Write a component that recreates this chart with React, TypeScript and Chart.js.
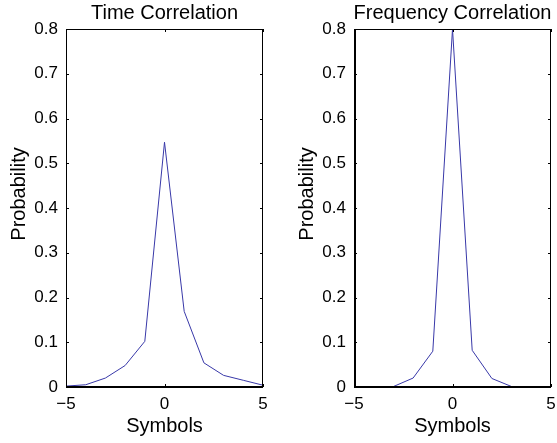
import React, { useEffect, useRef } from "react";
import { Chart, registerables } from "chart.js";

Chart.register(...registerables);

// ---- Data ----
const symbols = [-5, -4, -3, -2, -1, 0, 1, 2, 3, 4, 5];
const timeCorrelation = [0.002, 0.005, 0.02, 0.048, 0.102, 0.547, 0.169, 0.054, 0.026, 0.015, 0.004];
const freqCorrelation = [0, 0, 0.001, 0.02, 0.08, 0.8, 0.082, 0.019, 0.001, 0, 0];
const xTickValues = [-5, 0, 5];
const yTickValues = [0, 0.1, 0.2, 0.3, 0.4, 0.5, 0.6, 0.7, 0.8];
const panelTitles = ["Time Correlation", "Frequency Correlation"];
const xAxisLabel = "Symbols";
const yAxisLabel = "Probability";

const FONT = "'Liberation Sans', Arial, Helvetica, sans-serif";
const W = 557;
const H = 443;
const Y_AXIS_W = 60;
const X_AXIS_H = 40;

type Panel = {
  title: string;
  values: number[];
  left: number;
  right: number;
  thickLeft: boolean;
};

const panels: Panel[] = [
  { title: panelTitles[0], values: timeCorrelation, left: 66, right: 263, thickLeft: false },
  { title: panelTitles[1], values: freqCorrelation, left: 354, right: 551, thickLeft: true },
];
const TOP = 29;
const BOTTOM = 387;

function fmt(v: number): string {
  if (v === 0) return "0";
  if (Number.isInteger(v)) return v < 0 ? "\u2212" + Math.abs(v) : String(v);
  return v.toFixed(1);
}

function fixFit(s: any, horizontal: boolean) {
  if (horizontal) s.height = X_AXIS_H;
  else s.width = Y_AXIS_W;
  s.paddingLeft = 0;
  s.paddingRight = 0;
  s.paddingTop = 0;
  s.paddingBottom = 0;
}

function makeChart(canvas: HTMLCanvasElement, p: Panel) {
  const framePlugin = {
    id: "matlabFrame",
    afterDraw(chart: any) {
      const ctx = chart.ctx as CanvasRenderingContext2D;
      const a = chart.chartArea;
      const xs = chart.scales.x;
      const ys = chart.scales.y;
      ctx.save();
      ctx.strokeStyle = "#000";
      ctx.lineWidth = 1;
      // box
      ctx.beginPath();
      ctx.moveTo(a.left, a.top + 0.5);
      ctx.lineTo(a.right, a.top + 0.5);
      ctx.moveTo(a.right - 0.5, a.top);
      ctx.lineTo(a.right - 0.5, a.bottom);
      if (!p.thickLeft) {
        ctx.moveTo(a.left + 0.5, a.top);
        ctx.lineTo(a.left + 0.5, a.bottom);
      }
      ctx.stroke();
      ctx.lineWidth = 2;
      ctx.beginPath();
      ctx.moveTo(a.left, a.bottom);
      ctx.lineTo(a.right, a.bottom);
      if (p.thickLeft) {
        ctx.moveTo(a.left + 1, a.top);
        ctx.lineTo(a.left + 1, a.bottom);
      }
      ctx.stroke();
      // inward ticks
      ctx.lineWidth = 1;
      ctx.beginPath();
      const tl = 3;
      yTickValues.forEach((v) => {
        const y = Math.round(ys.getPixelForValue(v)) + 0.5;
        ctx.moveTo(a.left, y);
        ctx.lineTo(a.left + tl, y);
        ctx.moveTo(a.right, y);
        ctx.lineTo(a.right - tl, y);
      });
      xTickValues.forEach((v) => {
        const x = Math.round(xs.getPixelForValue(v)) + 0.5;
        ctx.moveTo(x, a.top);
        ctx.lineTo(x, a.top + tl);
        ctx.moveTo(x, a.bottom);
        ctx.lineTo(x, a.bottom - tl);
      });
      ctx.stroke();
      // texts
      ctx.fillStyle = "#000";
      ctx.font = `20px ${FONT}`;
      ctx.textAlign = "center";
      ctx.textBaseline = "alphabetic";
      const cx = (a.left + a.right) / 2;
      ctx.fillText(p.title, cx, 19);
      ctx.fillText(xAxisLabel, cx, 432);
      ctx.save();
      ctx.translate(a.left - 41, 194);
      ctx.rotate(-Math.PI / 2);
      ctx.fillText(yAxisLabel, 0, 0);
      ctx.restore();
      ctx.restore();
    },
  };

  return new Chart(canvas, {
    type: "line",
    data: {
      datasets: [
        {
          data: symbols.map((x, i) => ({ x, y: p.values[i] })),
          borderColor: "#3838a8",
          borderWidth: 1,
          pointRadius: 0,
          tension: 0,
          fill: false,
        },
      ],
    },
    options: {
      responsive: false,
      animation: false,
      devicePixelRatio: 1,
      layout: {
        padding: {
          left: p.left - Y_AXIS_W,
          right: W - p.right,
          top: TOP,
          bottom: H - BOTTOM - X_AXIS_H,
        },
      },
      plugins: {
        legend: { display: false },
        tooltip: { enabled: false },
        title: { display: false },
      },
      scales: {
        x: {
          type: "linear",
          min: -5,
          max: 5,
          grid: { display: false, drawTicks: false },
          border: { display: false },
          afterBuildTicks: (s: any) => {
            s.ticks = xTickValues.map((value) => ({ value }));
          },
          afterFit: (s: any) => fixFit(s, true),
          ticks: {
            color: "#000",
            font: { family: FONT, size: 17 },
            padding: 7,
            maxRotation: 0,
            autoSkip: false,
            callback: (v: any) => fmt(Number(v)),
          },
        },
        y: {
          type: "linear",
          min: 0,
          max: 0.8,
          grid: { display: false, drawTicks: false },
          border: { display: false },
          afterBuildTicks: (s: any) => {
            s.ticks = yTickValues.map((value) => ({ value }));
          },
          afterFit: (s: any) => fixFit(s, false),
          ticks: {
            color: "#000",
            font: { family: FONT, size: 17 },
            padding: 8,
            autoSkip: false,
            callback: (v: any) => fmt(Number(v)),
          },
        },
      },
    },
    plugins: [framePlugin],
  } as any);
}

export default function App() {
  const ref1 = useRef<HTMLCanvasElement>(null);
  const ref2 = useRef<HTMLCanvasElement>(null);

  useEffect(() => {
    const c1 = makeChart(ref1.current!, panels[0]);
    const c2 = makeChart(ref2.current!, panels[1]);
    return () => {
      c1.destroy();
      c2.destroy();
    };
  }, []);

  const style: React.CSSProperties = {
    position: "absolute",
    left: 0,
    top: 0,
    width: W,
    height: H,
  };

  return (
    <div style={{ position: "fixed", left: 0, top: 0, width: W, height: H, background: "#fff" }}>
      <canvas ref={ref1} width={W} height={H} style={style} />
      <canvas ref={ref2} width={W} height={H} style={style} />
    </div>
  );
}
